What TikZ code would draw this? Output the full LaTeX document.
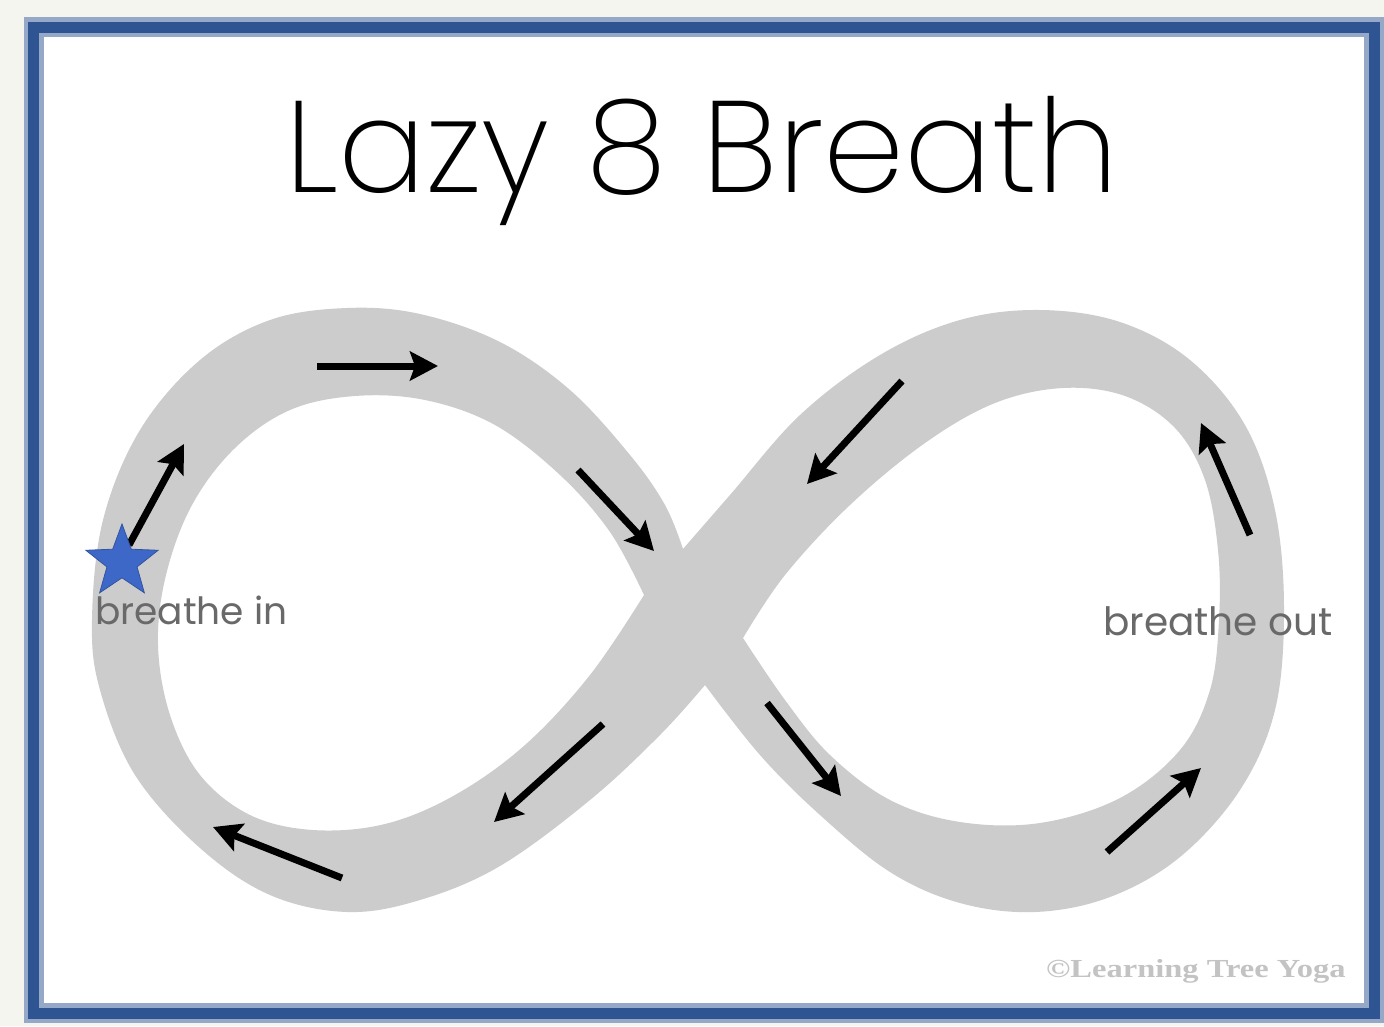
\documentclass[tikz,border=0pt]{standalone}
\usepackage{fontspec}
\usetikzlibrary{arrows.meta,shapes.geometric}
\IfFontExistsTF{Poppins ExtraLight}{\newfontfamily\titlefont{Poppins ExtraLight}}{%
 \IfFontExistsTF{Poppins Light}{\newfontfamily\titlefont{Poppins Light}}{%
  \IfFontExistsTF{Lato Light}{\newfontfamily\titlefont{Lato Light}}{%
   \newfontfamily\titlefont{Lato}}}}
\newfontfamily\labelfont{Poppins}
\newfontfamily\copyfont{Liberation Serif}
\definecolor{bandgray}{RGB}{204,204,204}
\definecolor{framedark}{RGB}{46,84,145}
\definecolor{framelight}{RGB}{150,168,200}
\definecolor{outerbg}{RGB}{245,245,240}
\definecolor{starblue}{RGB}{62,104,200}
\definecolor{labelgray}{RGB}{105,105,105}
\definecolor{copygray}{RGB}{195,195,195}
\begin{document}
\begin{tikzpicture}[x=1pt,y=-1pt,
  flow/.style={-{Stealth[length=28pt,width=29pt,inset=5pt]}, line width=7pt, black},
  lbl/.style={font=\labelfont, text=labelgray, inner sep=0pt, anchor=base west},
]
\useasboundingbox (0,0) rectangle (1384,1026);
\fill[outerbg] (0,0) rectangle (1384,1026);
\fill[white] (33.5,27) rectangle (1374,1013);
\draw[framelight, line width=20pt] (33.5,27) rectangle (1374,1013);
\draw[framedark, line width=11pt] (33.5,27) rectangle (1374,1013);

% infinity band
\fill[bandgray, even odd rule]
  plot[smooth, tension=0.6] coordinates {(683,549) (730,495) (800,415) (880,355) (960,320) (1040,310) (1120,322) (1190,360) (1245,425) (1275,510) (1284,610) (1275,710) (1240,790) (1180,857) (1110,897) (1035,912) (960,903) (890,872) (820,815) (760,755) (705,685)}
  -- plot[smooth, tension=0.6] coordinates {(705,685) (660,735) (590,800) (500,866) (420,900) (347,912) (270,895) (200,848) (135,775) (100,690) (92,620) (103,520) (140,430) (200,360) (270,320) (347,308) (420,314) (500,342) (570,390) (630,455) (665,505) (683,549)} -- cycle
  plot[smooth, tension=0.6] coordinates {(644,595) (610,532) (560,475) (495,425) (425,400) (355,396) (290,410) (235,448) (192,505) (166,575) (158,645) (170,715) (200,775) (250,815) (313,830) (385,824) (455,795) (525,745) (590,675) (644,595)} -- cycle
  plot[smooth, tension=0.6] coordinates {(743,638) (785,575) (850,505) (925,443) (995,403) (1063,388) (1125,396) (1175,428) (1205,480) (1218,550) (1219,620) (1210,690) (1180,750) (1120,798) (1040,823) (960,822) (890,800) (830,755) (785,700) (743,638)} -- cycle;

% arrows
\coordinate (a1s) at (129,545); \coordinate (a1e) at (184,444);
\coordinate (a2s) at (317,366); \coordinate (a2e) at (438,366);
\coordinate (a3s) at (578,470); \coordinate (a3e) at (654,551);
\coordinate (a4s) at (603,724); \coordinate (a4e) at (494,822);
\coordinate (a5s) at (342,878); \coordinate (a5e) at (213,827);
\coordinate (a6s) at (902,381); \coordinate (a6e) at (807,484);
\coordinate (a7s) at (1250,535); \coordinate (a7e) at (1201,423);
\coordinate (a8s) at (767,703); \coordinate (a8e) at (841,796);
\coordinate (a9s) at (1107,852); \coordinate (a9e) at (1201,768);
\foreach \i in {1,...,9} {\draw[flow] (a\i s) -- (a\i e);}

\node[star, star points=5, star point ratio=2.4, fill=starblue, draw=starblue!80!black, line width=0.8pt, minimum size=76pt, inner sep=0pt] (star) at (122,562) {};

% texts
\node[font=\titlefont\fontsize{130pt}{130pt}\selectfont, anchor=base, inner sep=0pt] (title) at (702,192) {Lazy 8 Breath};
\node[lbl, font=\labelfont\fontsize{37.5pt}{37.5pt}\selectfont] (bin) at (95,624) {breathe in};
\node[lbl, font=\labelfont\fontsize{39pt}{39pt}\selectfont] (bout) at (1103,635) {breathe out};
\node[font=\copyfont\bfseries\fontsize{26pt}{26pt}\selectfont, text=copygray, anchor=base west, inner sep=0pt] (copy) at (1046,977) {\scalebox{1.25}[1]{©Learning Tree Yoga}};
\end{tikzpicture}
\end{document}
